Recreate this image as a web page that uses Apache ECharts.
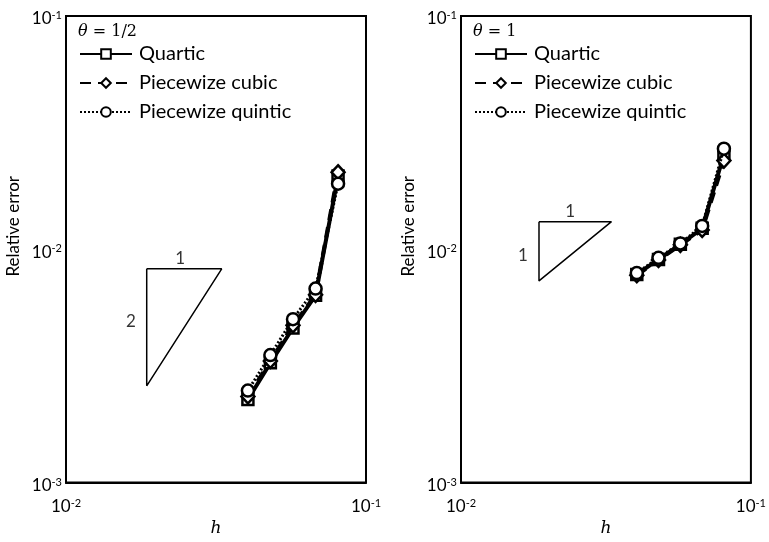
<!DOCTYPE html>
<html>
<head>
<meta charset="utf-8">
<script src="https://cdn.jsdelivr.net/npm/echarts@6/dist/echarts.min.js"></script>
<style>
  html, body { margin: 0; padding: 0; background: #fff; }
  #chart { width: 769px; height: 542px; }
</style>
</head>
<body>
<div id="chart"></div>
<script>
// grid spacing h (same in both panels)
const hValues = [0.0404, 0.048, 0.0571, 0.0679, 0.0807];

// theta = 1/2
const halfQuartic = [0.00227, 0.00326, 0.00460, 0.00635, 0.0206];
const halfCubic = [0.00234, 0.00332, 0.00472, 0.00638, 0.0214];
const halfQuintic = [0.00248, 0.00352, 0.00502, 0.00679, 0.0191];

// theta = 1
const oneQuartic = [0.00780, 0.00905, 0.01050, 0.0123, 0.0255];
const oneCubic = [0.00775, 0.00900, 0.01045, 0.0121, 0.0240];
const oneQuintic = [0.00791, 0.00919, 0.01060, 0.0126, 0.0270];

// slope triangles (data coordinates)
const triSlope2 = [[0.01858, 0.00825], [0.03304, 0.00825], [0.01858, 0.0026], [0.01858, 0.00825]];
const triSlope1 = [[0.01858, 0.01314], [0.03304, 0.01314], [0.01858, 0.00732], [0.01858, 0.01314]];
const triLabels2 = [[0.0240, 0.00916, '1'], [0.01647, 0.00491, '2']];
const triLabels1 = [[0.0238, 0.01449, '1'], [0.01634, 0.00943, '1']];

const seriesNames = ['Quartic', 'Piecewize cubic', 'Piecewize quintic'];
const panelTitles = ['1/2', '1'];

const chart = echarts.init(document.getElementById('chart'));
const font = 'Lato';

function pairs(ys) {
  return hValues.map((h, i) => [h, ys[i]]);
}

const styles = [
  { symbol: 'rect', symbolSize: 11, lineStyle: { type: 'solid', width: 4 } },
  { symbol: 'diamond', symbolSize: [13, 14], lineStyle: { type: [11, 7], width: 4 } },
  { symbol: 'circle', symbolSize: 12, lineStyle: { type: [2, 2], width: 3 } }
];

function expLabel(v) {
  const e = Math.round(Math.log10(v));
  return '10{sup|' + e + '}';
}
const axisRich = {
  sup: { fontSize: 11, verticalAlign: 'top', padding: [0, 0, 7, 0], fontFamily: font, color: '#000' }
};

const grids = [
  { left: 66, top: 16, width: 300, height: 472 },
  { left: 461, top: 16, width: 299, height: 472 }
];

const xAxes = grids.map((g, i) => ({
  type: 'log', logBase: 10, gridIndex: i, min: 0.01, max: 0.1,
  name: 'h', nameLocation: 'middle', nameGap: 36,
  nameTextStyle: { fontFamily: 'DejaVu Serif', fontStyle: 'italic', fontSize: 17, color: '#000' },
  axisLine: { lineStyle: { color: '#000', width: 2 } },
  axisTick: { show: false },
  splitLine: { show: false },
  minorSplitLine: { show: false },
  axisLabel: { formatter: expLabel, fontFamily: font, fontSize: 17, color: '#000', margin: 15, rich: axisRich }
}));

const yAxes = grids.map((g, i) => ({
  type: 'log', logBase: 10, gridIndex: i, min: 0.001, max: 0.1,
  name: 'Relative error', nameLocation: 'middle', nameGap: 44,
  nameTextStyle: { fontFamily: font, fontSize: 17, color: '#000', padding: [0, 0, 0, 46] },
  axisLine: { lineStyle: { color: '#000', width: 2 } },
  axisTick: { show: false },
  splitLine: { show: false },
  axisLabel: { formatter: expLabel, fontFamily: font, fontSize: 17, color: '#000', margin: 4, padding: [6, 0, 0, 0], rich: axisRich }
}));

const panelData = [
  [halfQuartic, halfCubic, halfQuintic],
  [oneQuartic, oneCubic, oneQuintic]
];

const series = [];
panelData.forEach((sets, p) => {
  sets.forEach((ys, k) => {
    series.push({
      name: seriesNames[k],
      type: 'line',
      xAxisIndex: p, yAxisIndex: p,
      data: pairs(ys),
      symbol: styles[k].symbol,
      symbolSize: styles[k].symbolSize,
      showAllSymbol: true,
      lineStyle: Object.assign({ color: '#000' }, styles[k].lineStyle),
      itemStyle: { color: '#fff', borderColor: '#000', borderWidth: 2.5 },
      emphasis: { disabled: true },
      animation: false,
      z: 3 + k
    });
  });
});

[triSlope2, triSlope1].forEach((tri, p) => {
  series.push({
    type: 'line', xAxisIndex: p, yAxisIndex: p,
    data: tri, symbol: 'none',
    lineStyle: { color: '#000', width: 1.5 },
    animation: false, silent: true
  });
});

[triLabels2, triLabels1].forEach((labs, p) => {
  series.push({
    type: 'scatter', xAxisIndex: p, yAxisIndex: p,
    data: labs, symbolSize: 0,
    label: {
      show: true, position: 'inside',
      formatter: (d) => d.value[2],
      fontFamily: font, fontSize: 17, color: '#000'
    },
    animation: false, silent: true
  });
});

const legends = grids.map((g, i) => ({
  left: g.left + 13, top: 44,
  orient: 'vertical',
  itemWidth: 52, itemHeight: 12, itemGap: 9,
  padding: 0,
  data: seriesNames,
  textStyle: { fontFamily: font, fontSize: 20, color: '#000', padding: [0, 0, 0, 2] },
  selectedMode: false
}));

const titles = grids.map((g, i) => ({
  left: g.left + 12, top: 24, padding: 0,
  text: '{t|θ} = ' + panelTitles[i],
  textStyle: {
    fontFamily: 'DejaVu Serif', fontSize: 16, fontWeight: 'normal', color: '#000',
    rich: { t: { fontFamily: 'DejaVu Serif', fontStyle: 'italic', fontSize: 16, color: '#000' } }
  }
}));

chart.setOption({
  backgroundColor: '#fff',
  animation: false,
  title: titles,
  legend: legends,
  grid: grids.map(g => Object.assign({ show: true, borderColor: '#000', borderWidth: 2, backgroundColor: 'transparent' }, g)),
  xAxis: xAxes,
  yAxis: yAxes,
  series: series
});
</script>
</body>
</html>
